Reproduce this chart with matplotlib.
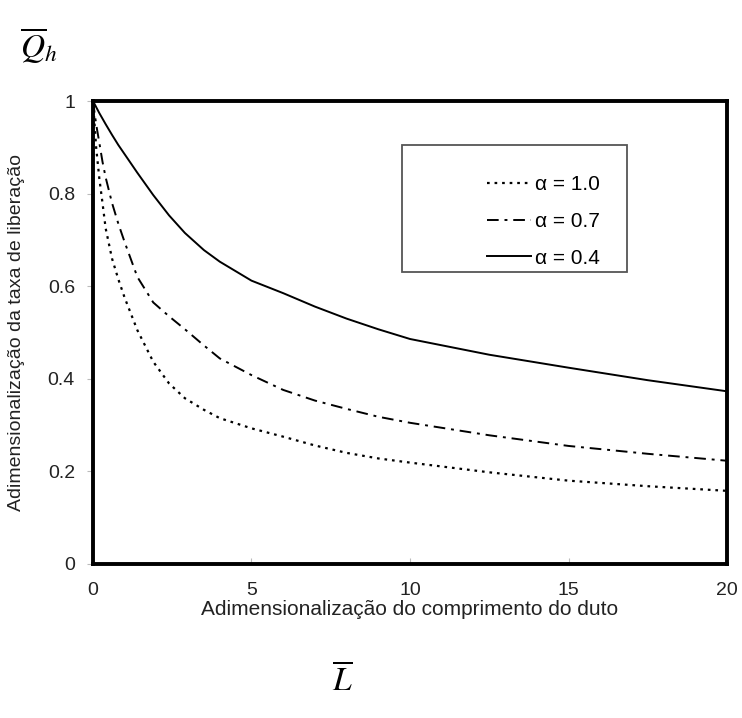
import matplotlib
matplotlib.use("Agg")
from matplotlib import pyplot as plt
from matplotlib.patches import Rectangle

# valores
comprimento = [0, 0.1, 0.2, 0.3, 0.4, 0.6, 0.8, 1.0, 1.4, 1.9, 2.4, 2.9, 3.5, 4.0,
               5.0, 6.0, 7.0, 8.0, 9.0, 10.0, 12.5, 15.0, 17.5, 20.0]
alpha_10 = [1.0, 0.90, 0.833, 0.78, 0.725, 0.66, 0.615, 0.575, 0.505, 0.437, 0.39, 0.358,
            0.333, 0.315, 0.293, 0.275, 0.256, 0.240, 0.228, 0.219, 0.198, 0.180, 0.168, 0.158]
alpha_07 = [1.0, 0.95, 0.91, 0.869, 0.835, 0.78, 0.735, 0.695, 0.62, 0.565, 0.535, 0.507,
            0.472, 0.444, 0.408, 0.376, 0.353, 0.335, 0.318, 0.305, 0.278, 0.255, 0.238, 0.223]
alpha_04 = [1.0, 0.987, 0.974, 0.962, 0.95, 0.927, 0.905, 0.885, 0.845, 0.797, 0.753, 0.715,
            0.678, 0.653, 0.612, 0.585, 0.556, 0.530, 0.507, 0.486, 0.452, 0.424, 0.397, 0.373]
rotulos = ["\u03b1 = 1.0", "\u03b1 = 0.7", "\u03b1 = 0.4"]

plt.rcParams["font.family"] = ["Liberation Sans", "DejaVu Sans"]
plt.rcParams["mathtext.fontset"] = "stix"

fig = plt.figure(figsize=(7.42, 7.18), dpi=100)
ax = fig.add_axes([0.1253, 0.2145, 0.8545, 0.6448])

ax.plot(comprimento, alpha_10, color="black", lw=1.6, linestyle=(0, (1.2, 2.2)), label=rotulos[0])
ax.plot(comprimento, alpha_07, color="black", lw=1.4, linestyle=(0, (6, 3, 1.5, 3)), label=rotulos[1])
ax.plot(comprimento, alpha_04, color="black", lw=1.4, linestyle="-", label=rotulos[2])

ax.set_xlim(0, 20)
ax.set_ylim(0, 1)
ax.set_xticks([0, 5, 10, 15, 20])
ax.set_xticklabels(["0", "5", "10", "15", "20"])
ax.set_yticks([0, 0.2, 0.4, 0.6, 0.8, 1])
ax.set_yticklabels(["0", "0.2", "0.4", "0.6", "0.8", "1"])
ax.tick_params(axis="x", direction="in", length=4, width=0.8, labelsize=14, pad=13, colors="#bbbbbb", labelcolor="#222222")
ax.tick_params(axis="y", direction="out", length=4, width=0.8, labelsize=14, pad=9, colors="#bbbbbb", labelcolor="#222222")
for s in ax.spines.values():
    s.set_linewidth(2.8)

ax.set_xlabel("Adimensionalização do comprimento do duto", fontsize=15, color="#222222", labelpad=1)
ax.set_ylabel("Adimensionalização da taxa de liberação", fontsize=14, color="#222222", labelpad=16)

# caixa da legenda
ax.add_patch(Rectangle((0.487, 0.631), 0.355, 0.274, transform=ax.transAxes,
                       facecolor="white", edgecolor="#555555", lw=1.3, zorder=3))
leg = ax.legend(loc="upper right", bbox_to_anchor=(0.80, 0.84), frameon=False,
                fontsize=15, handlelength=2.1, handletextpad=0.2, labelspacing=0.85,
                borderpad=0, borderaxespad=0)
leg.set_zorder(4)

fig.text(0.027, 0.937, r"$\overline{Q}_h$", fontsize=24, ha="left", va="center")
fig.text(0.448, 0.052, r"$\overline{L}$", fontsize=24, ha="left", va="center")

fig.savefig("out.png", dpi=100)
